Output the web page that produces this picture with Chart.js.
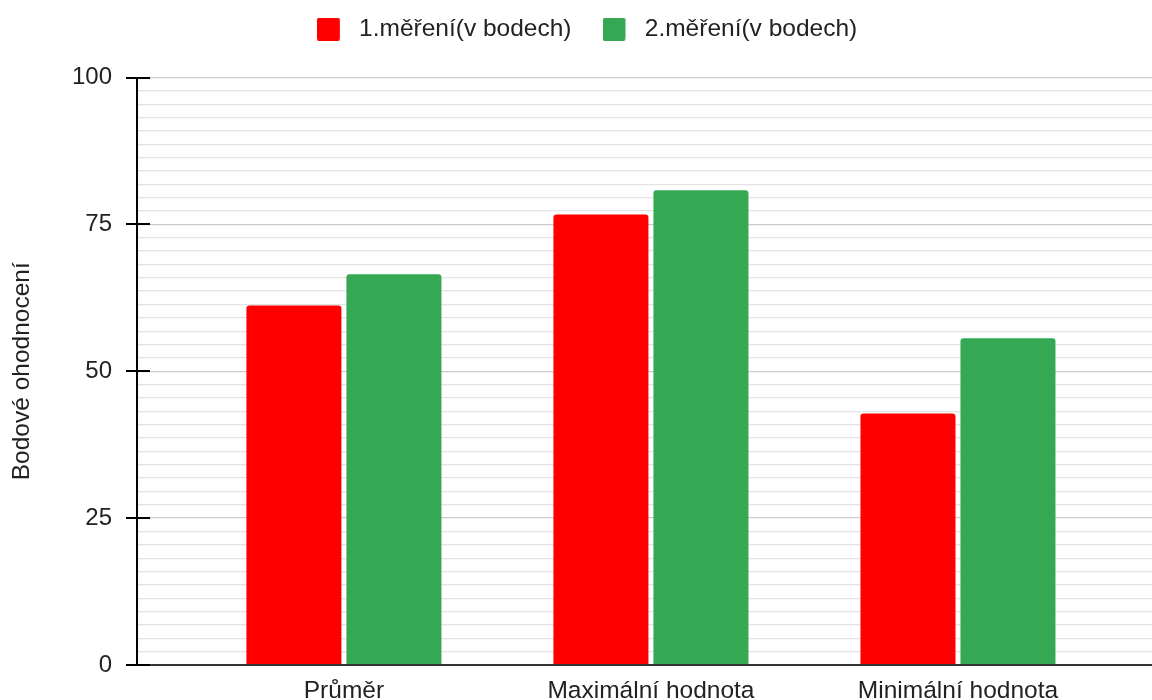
<!DOCTYPE html>
<html>
<head>
<meta charset="utf-8">
<script src="https://cdn.jsdelivr.net/npm/chart.js@4/dist/chart.umd.min.js"></script>
<style>
  html, body { margin: 0; padding: 0; background: #fff; overflow: hidden; }
</style>
</head>
<body>
<canvas id="chart" width="1152" height="700"></canvas>
<script>
// Chart data
const categories = ["Průměr", "Maximální hodnota", "Minimální hodnota"];
const seriesNames = ["1.měření(v bodech)", "2.měření(v bodech)"];
const seriesColors = ["#ff0000", "#34a853"];
const measurement1 = [61.2, 76.7, 42.8];
const measurement2 = [66.5, 80.8, 55.6];
const yTickLabels = [0, 25, 50, 75, 100];
const minorPerMajor = 11;

const FONT = "'Liberation Sans', Arial, sans-serif";
const TEXT = "#222";

// Major and minor ticks for the value axis
function buildYTicks() {
  const ticks = [];
  for (let j = 0; j < yTickLabels.length - 1; j++) {
    const step = (yTickLabels[j + 1] - yTickLabels[j]) / minorPerMajor;
    for (let k = 0; k < minorPerMajor; k++) {
      ticks.push({ value: yTickLabels[j] + k * step, major: k === 0 });
    }
  }
  ticks.push({ value: yTickLabels[yTickLabels.length - 1], major: true });
  return ticks;
}

// Legend swatch: rounded square on the left, empty space on the right
function legendSwatch(color) {
  const c = document.createElement("canvas");
  c.width = 30;
  c.height = 23;
  const g = c.getContext("2d");
  g.fillStyle = color;
  g.beginPath();
  g.roundRect(0, 0, 23, 23, 2);
  g.fill();
  return c;
}

// Extra space under the legend and a small shift to the right
const legendTweak = {
  id: "legendTweak",
  afterInit(chart) {
    const fit = chart.legend.fit;
    chart.legend.fit = function () {
      fit.call(this);
      this.height += 26;
    };
  },
  afterLayout(chart) {
    chart.legend.left += 11;
    chart.legend.right += 11;
  },
};

// Black tick marks crossing the value axis
const axisTicks = {
  id: "axisTicks",
  afterDraw(chart) {
    const ctx = chart.ctx;
    const yScale = chart.scales.y;
    const left = chart.chartArea.left;
    ctx.save();
    ctx.strokeStyle = "#000";
    ctx.lineWidth = 2;
    yTickLabels.forEach((v) => {
      const py = Math.round(yScale.getPixelForValue(v));
      ctx.beginPath();
      ctx.moveTo(left - 11, py);
      ctx.lineTo(left + 13, py);
      ctx.stroke();
    });
    ctx.restore();
  },
};

const ctx = document.getElementById("chart").getContext("2d");

new Chart(ctx, {
  type: "bar",
  data: {
    datasets: [
      {
        label: seriesNames[0],
        data: measurement1.map((v, i) => ({ x: i, y: v })),
        backgroundColor: seriesColors[0],
        borderRadius: 3,
        pointStyle: legendSwatch(seriesColors[0]),
      },
      {
        label: seriesNames[1],
        data: measurement2.map((v, i) => ({ x: i, y: v })),
        backgroundColor: seriesColors[1],
        borderRadius: 3,
        pointStyle: legendSwatch(seriesColors[1]),
      },
    ],
  },
  options: {
    responsive: false,
    animation: false,
    categoryPercentage: 0.6515,
    barPercentage: 0.95,
    layout: { padding: { top: -14, left: 0, right: 0, bottom: 0 } },
    plugins: {
      tooltip: { enabled: false },
      legend: {
        position: "top",
        labels: {
          usePointStyle: true,
          pointStyleWidth: 30,
          boxHeight: 23,
          padding: 31,
          color: TEXT,
          font: { family: FONT, size: 24.5 },
        },
      },
    },
    scales: {
      x: {
        type: "linear",
        offset: false,
        min: -0.674,
        max: 2.632,
        afterBuildTicks: (scale) => {
          scale.ticks = categories.map((c, i) => ({ value: i }));
        },
        afterFit: (scale) => {
          scale.height = 35;
        },
        grid: { display: false, drawTicks: false },
        border: { display: false },
        ticks: {
          padding: 12,
          color: TEXT,
          font: { family: FONT, size: 24.5 },
          callback: (value) => categories[value] ?? "",
        },
      },
      y: {
        min: 0,
        max: 100,
        afterBuildTicks: (scale) => {
          scale.ticks = buildYTicks();
        },
        afterFit: (scale) => {
          scale.width = 137;
        },
        title: {
          display: true,
          text: "Bodové ohodnocení",
          color: TEXT,
          font: { family: FONT, size: 24.5 },
          padding: { top: 8, bottom: 0 },
        },
        border: { color: "#000", width: 2 },
        grid: {
          tickLength: 11,
          tickColor: "rgba(0,0,0,0)",
          color: (c) => {
            if (c.tick.value === 0) return "#333";
            return c.tick.major ? "#cccccc" : "#e3e3e3";
          },
          lineWidth: (c) => (c.tick.value === 0 ? 2 : 1.3),
        },
        ticks: {
          autoSkip: false,
          padding: 14,
          color: TEXT,
          font: { family: FONT, size: 24 },
          callback: (value, index, ticks) =>
            ticks[index].major ? String(value) : "",
        },
      },
    },
  },
  plugins: [legendTweak, axisTicks],
});
</script>
</body>
</html>
